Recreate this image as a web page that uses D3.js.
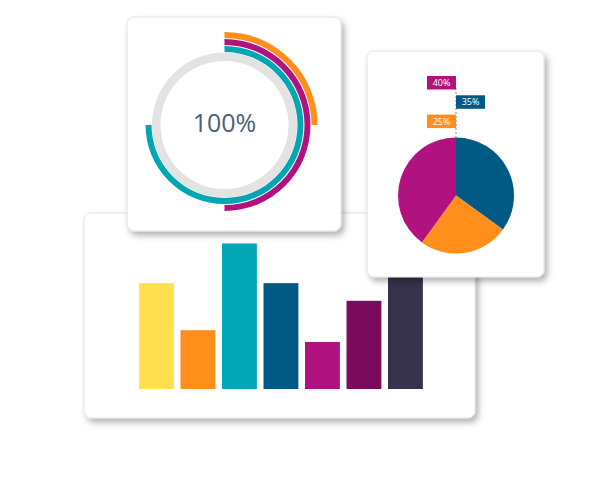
<!DOCTYPE html>
<html>
<head>
<meta charset="utf-8">
<script src="https://cdn.jsdelivr.net/npm/d3@7"></script>
<style>
  html, body { margin: 0; padding: 0; background: #fff; }
  svg { display: block; }
</style>
</head>
<body>
<div id="chart"></div>
<script>
// bar chart
var barCategories = ['a', 'b', 'c', 'd', 'e', 'f', 'g'];
var barValues = [72, 40, 99, 72, 32, 60, 85];
var barColors = ['#FFE14F', '#FF8E1A', '#00A6B4', '#005A84', '#B0127F', '#7C0A5A', '#37324B'];

// ring chart
var ringLabels = ['teal', 'magenta', 'orange'];
var ringValues = [75, 50, 25];
var ringColors = ['#00A6B4', '#B0127F', '#FF8E1A'];
var ringTotalText = '100%';

// pie chart
var pieLabels = ['35%', '25%', '40%'];
var pieValues = [35, 25, 40];
var pieColors = ['#005A84', '#FF8E1A', '#B0127F'];

var W = 600, H = 479;

var svg = d3.select('#chart')
  .append('svg')
    .attr('width', W)
    .attr('height', H);

// drop shadow for the cards
var defs = svg.append('defs');
var f = defs.append('filter')
    .attr('id', 'shadow')
    .attr('x', '-10%').attr('y', '-10%')
    .attr('width', '130%').attr('height', '130%');
f.append('feDropShadow')
    .attr('dx', 3).attr('dy', 4)
    .attr('stdDeviation', 3)
    .attr('flood-color', '#000')
    .attr('flood-opacity', 0.3);

function card(x, y, w, h) {
  return svg.append('rect')
      .attr('x', x).attr('y', y)
      .attr('width', w).attr('height', h)
      .attr('rx', 7).attr('ry', 7)
      .attr('fill', '#fff')
      .attr('stroke', '#e2e2e2')
      .attr('stroke-width', 1)
      .attr('filter', 'url(#shadow)');
}

// ---- bar card ----
card(84, 213, 391, 205);

var x = d3.scaleBand()
    .domain(barCategories)
    .range([135.7, 426.2])
    .paddingInner(0.16)
    .paddingOuter(0.08);

var y = d3.scaleLinear()
    .domain([0, 100])
    .range([389, 242]);

svg.append('g')
  .selectAll('rect')
  .data(barValues)
  .enter()
  .append('rect')
    .attr('x', function(d, i) { return x(barCategories[i]); })
    .attr('y', function(d) { return y(d); })
    .attr('width', x.bandwidth())
    .attr('height', function(d) { return y(0) - y(d); })
    .attr('fill', function(d, i) { return barColors[i]; });

// ---- ring card ----
card(127, 17, 214, 214);

var ring = svg.append('g')
    .attr('transform', 'translate(224.5,125)');

ring.append('path')
    .attr('d', d3.arc()({innerRadius: 64, outerRadius: 72.5, startAngle: 0, endAngle: 2 * Math.PI}))
    .attr('fill', '#E3E3E3');

var ringR = d3.scaleBand()
    .domain(ringLabels)
    .range([73, 93])
    .paddingInner(0.15);

var ringAngle = d3.scaleLinear()
    .domain([0, 100])
    .range([0, 2 * Math.PI]);

ring.selectAll('.arc')
  .data(ringValues)
  .enter()
  .append('path')
    .attr('class', 'arc')
    .attr('d', function(d, i) {
      return d3.arc()({
        innerRadius: ringR(ringLabels[i]),
        outerRadius: ringR(ringLabels[i]) + ringR.bandwidth(),
        startAngle: 0,
        endAngle: ringAngle(d)
      });
    })
    .attr('fill', function(d, i) { return ringColors[i]; });

ring.append('text')
    .attr('text-anchor', 'middle')
    .attr('y', 7)
    .style('font-family', '"Open Sans", sans-serif')
    .style('font-size', '25px')
    .style('fill', '#4B607A')
    .text(ringTotalText);

// ---- pie card ----
card(367, 51, 177, 226);

var cx = 456, cy = 195.5, r = 58;
var pieG = svg.append('g')
    .attr('transform', 'translate(' + cx + ',' + cy + ')');

var pie = d3.pie().sort(null).value(function(d) { return d; });
var arcs = pie(pieValues);

pieG.selectAll('path')
  .data(arcs)
  .enter()
  .append('path')
    .attr('d', d3.arc().innerRadius(0).outerRadius(r))
    .attr('fill', function(d, i) { return pieColors[i]; });

// dashed guide above the pie
svg.append('line')
    .attr('x1', cx).attr('x2', cx)
    .attr('y1', 88).attr('y2', cy - r)
    .attr('stroke', '#8a8a8a')
    .attr('stroke-width', 1)
    .attr('stroke-dasharray', '2,2');

// labels: 40% top-left, 35% middle-right, 25% bottom-left
var labelOrder = [2, 0, 1];
var labelG = svg.append('g');
labelOrder.forEach(function(idx, k) {
  var bx = (idx === 0) ? cx : cx - 29;
  var by = 76 + k * 19.3;
  labelG.append('rect')
      .attr('x', bx).attr('y', by)
      .attr('width', 29).attr('height', 13.5)
      .attr('fill', pieColors[idx]);
  labelG.append('text')
      .attr('x', bx + 14.5).attr('y', by + 10)
      .attr('text-anchor', 'middle')
      .style('font-family', '"Open Sans", sans-serif')
      .style('font-size', '9px')
      .style('fill', '#fff')
      .text(pieLabels[idx]);
});
</script>
</body>
</html>
